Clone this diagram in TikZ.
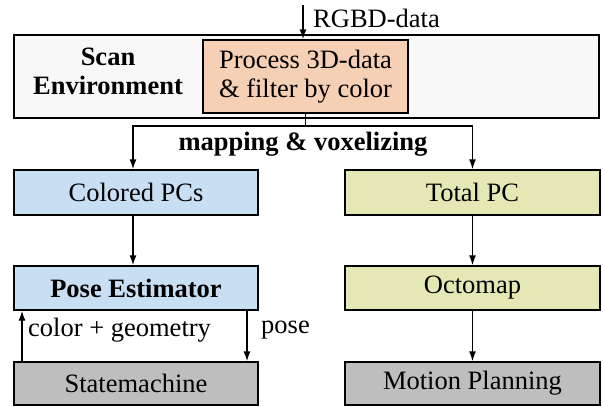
\documentclass[tikz,border=0pt]{standalone}
\usepackage{fontspec}
\setmainfont{Liberation Serif}
\usetikzlibrary{arrows.meta}
\definecolor{peach}{HTML}{F6D0B5}
\definecolor{lblue}{HTML}{C8DFF3}
\definecolor{lyell}{HTML}{E5E8B5}
\definecolor{lgray}{HTML}{BEBEBE}
\definecolor{scanbg}{HTML}{F8F8F8}
\begin{document}
\begin{tikzpicture}[x=1pt,y=-1pt,
  every node/.style={font=\fontsize{26.5}{29}\selectfont},
  box/.style={draw=black,line width=1.4pt,rectangle,inner sep=0pt,align=center},
  arr/.style={line width=1.4pt,-{Latex[length=10pt,width=7pt]}},
  lbl/.style={inner sep=0pt}]
\useasboundingbox (0,0) rectangle (603,407);
\node[box,fill=scanbg,minimum width=585pt,minimum height=83pt] (scan) at (306.5,76.5) {};
\node[lbl,align=center,font=\fontsize{26.5}{29}\selectfont\bfseries] (scanl) at (108,71) {Scan\\Environment};
\node[box,fill=peach,minimum width=205pt,minimum height=73pt] (proc) at (305.5,76.5) {Process 3D-data\\\& filter by color};
\coordinate (in) at (303,5);
\draw[arr] (in) -- (in |- proc.north);
\node[lbl,anchor=west] (rgbd) at (313,18) {RGBD-data};
\node[box,fill=lblue,minimum width=244pt,minimum height=45pt] (colored) at (136,192.5) {Colored PCs};
\node[box,fill=lyell,minimum width=255pt,minimum height=45pt] (total) at (472.5,192.5) {Total PC};
\node[box,fill=lblue,minimum width=244pt,minimum height=44pt,font=\fontsize{26.5}{29}\selectfont\bfseries] (pose) at (136,288) {Pose Estimator};
\node[box,fill=lyell,minimum width=255pt,minimum height=44pt] (octo) at (472.5,288) {Octomap};
\node[box,fill=lgray,minimum width=244pt,minimum height=43pt] (state) at (136,383.5) {Statemachine};
\node[box,fill=lgray,minimum width=255pt,minimum height=43pt] (motion) at (472.5,383.5) {Motion Planning};
\coordinate (lsplit) at (133,126);
\coordinate (rsplit) at (472.5,126);
\draw[line width=1.4pt] (proc.south) -- (proc.south |- lsplit);
\draw[arr] (proc.south |- lsplit) -- (lsplit) -- (lsplit |- colored.north);
\draw[arr] (proc.south |- rsplit) -- (rsplit) -- (total.north);
\node[lbl,font=\fontsize{26.5}{29}\selectfont\bfseries] (map) at (303,144) {mapping \& voxelizing};
\draw[arr] (lsplit |- colored.south) -- (lsplit |- pose.north);
\draw[arr] (total.south) -- (octo.north);
\draw[arr] (octo.south) -- (motion.north);
\coordinate (up) at (22,0);
\coordinate (dn) at (247,0);
\draw[arr] (up |- state.north) -- (up |- pose.south);
\draw[arr] (dn |- pose.south) -- (dn |- state.north);
\node[lbl,anchor=west] (cg) at (28,330) {color + geometry};
\node[lbl,anchor=west] (pl) at (261,330) {pose};
\end{tikzpicture}
\end{document}
